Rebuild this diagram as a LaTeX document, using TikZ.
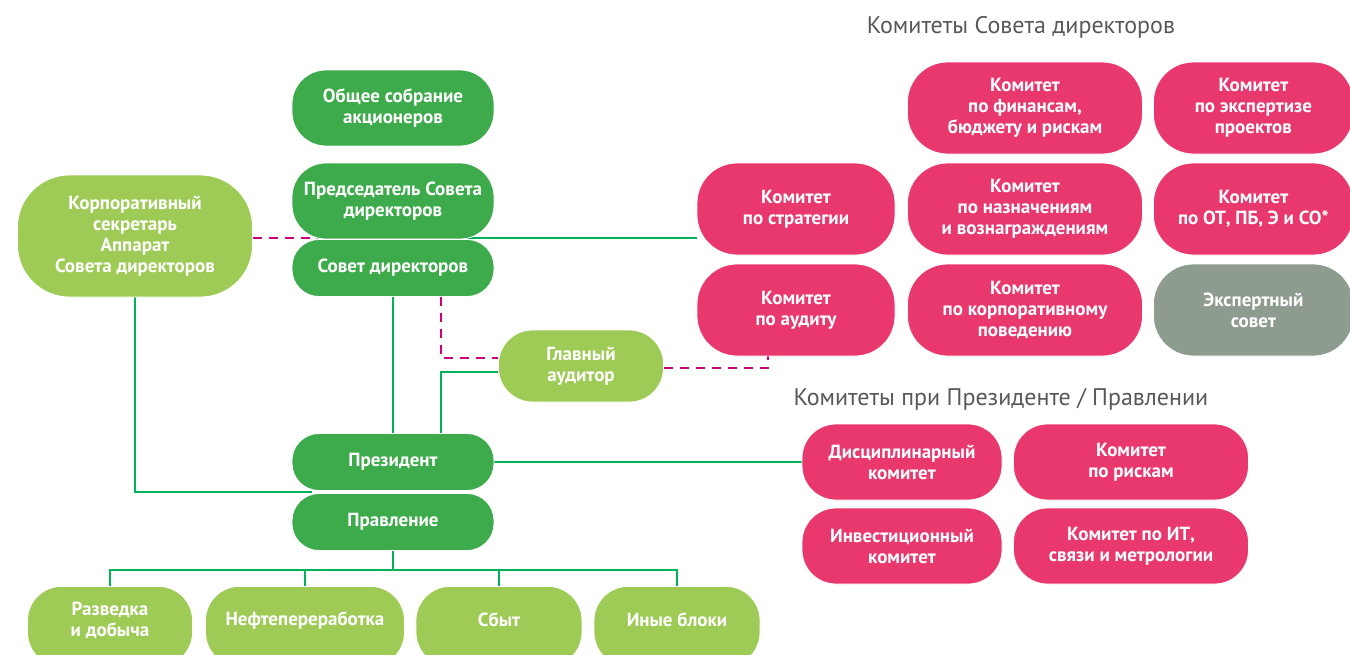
\documentclass[tikz,border=0pt]{standalone}
\usepackage{fontspec}
\setmainfont{PT Sans}
\newfontfamily\titlefont{PT Sans}
\usetikzlibrary{calc}
\definecolor{dkgreen}{HTML}{3DAB4B}
\definecolor{ltgreen}{HTML}{9DCB55}
\definecolor{pinkc}{HTML}{E8386E}
\definecolor{greyc}{HTML}{8E9C90}
\definecolor{lineg}{HTML}{00B25A}
\definecolor{linem}{HTML}{C8007A}
\definecolor{titleg}{HTML}{585858}
\pgfdeclarelayer{background}
\pgfsetlayers{background,main}
\tikzset{
  boxfont/.style={font=\fontsize{19}{21}\selectfont\bfseries},
  box/.style={fill=#1, draw=white, line width=0.8pt, text=white, align=center,
    inner sep=0pt, boxfont, rounded corners=34pt},
  big/.style={rounded corners=40pt},
  lbl/.style={text=white, align=center, boxfont},
  gl/.style={draw=lineg, line width=2.4pt},
  ml/.style={draw=linem, line width=2.4pt, dash pattern=on 9pt off 7pt},
  ttl/.style={text=titleg, font=\titlefont\fontsize{24}{28}\selectfont}
}
\begin{document}
\begin{tikzpicture}[x=1pt,y=-1pt]
\useasboundingbox (0,0) rectangle (1350,654);
% left column
\node[box=dkgreen, minimum width=202pt, minimum height=76pt] (osa) at (393,108) {Общее собрание\\акционеров};
\node[box=dkgreen, minimum width=202pt, minimum height=76pt] (pred) at (393,201) {Председатель Совета\\директоров};
\node[box=dkgreen, minimum width=202pt, minimum height=57pt, rounded corners=27pt] (sd) at (393,268) {Совет директоров};
\node[box=ltgreen, minimum width=235pt, minimum height=122pt, rounded corners=52pt] (sec) at (135,236) {Корпоративный\\секретарь\\Аппарат\\Совета директоров};
\node[box=ltgreen, minimum width=165pt, minimum height=72pt] (aud) at (581,366) {Главный\\аудитор};
\node[box=dkgreen, minimum width=202pt, minimum height=57pt, rounded corners=27pt] (pres) at (393,462) {Президент};
\node[box=dkgreen, minimum width=202pt, minimum height=57pt, rounded corners=27pt] (prav) at (393,522) {Правление};
\node[box=ltgreen, minimum width=165pt, minimum height=80pt, anchor=north] (b1) at (110,586) {};
\node[box=ltgreen, minimum width=199pt, minimum height=80pt, anchor=north] (b2) at (305,586) {};
\node[box=ltgreen, minimum width=166pt, minimum height=80pt, anchor=north] (b3) at (499,586) {};
\node[box=ltgreen, minimum width=166pt, minimum height=80pt, anchor=north] (b4) at (677,586) {};
\node[lbl] (t1) at (110,620) {Разведка\\и добыча};
\node[lbl] (t2) at (305,620) {Нефтепереработка};
\node[lbl] (t3) at (499,620) {Сбыт};
\node[lbl] (t4) at (677,620) {Иные блоки};
% board committees
\node[ttl] (title1) at (1021,27) {Комитеты Совета директоров};
\node[box=pinkc, big, minimum width=235pt, minimum height=92pt] (kfin) at (1025,108) {Комитет\\по финансам,\\бюджету и рискам};
\node[box=pinkc, big, minimum width=200pt, minimum height=92pt, anchor=west] (kexp) at (1153,108) {Комитет\\по экспертизе\\проектов};
\node[box=pinkc, big, minimum width=198pt, minimum height=92pt] (kstr) at (796,209) {Комитет\\по стратегии};
\node[box=pinkc, big, minimum width=235pt, minimum height=92pt] (knaz) at (1025,209) {Комитет\\по назначениям\\и вознаграждениям};
\node[box=pinkc, big, minimum width=200pt, minimum height=92pt, anchor=west] (kot) at (1153,209) {Комитет\\по ОТ, ПБ, Э и СО*};
\node[box=pinkc, big, minimum width=198pt, minimum height=92pt] (kaud) at (796,310) {Комитет\\по аудиту};
\node[box=pinkc, big, minimum width=235pt, minimum height=92pt] (kkorp) at (1025,310) {Комитет\\по корпоративному\\поведению};
\node[box=greyc, big, minimum width=200pt, minimum height=92pt, anchor=west] (ksov) at (1153,310) {Экспертный\\совет};
% president committees
\node[ttl] (title2) at (1001,399) {Комитеты при Президенте / Правлении};
\node[box=pinkc, minimum width=200pt, minimum height=76pt] (kdis) at (902,462) {Дисциплинарный\\комитет};
\node[box=pinkc, minimum width=235pt, minimum height=76pt] (kris) at (1131,462) {Комитет\\по рискам};
\node[box=pinkc, minimum width=200pt, minimum height=76pt] (kinv) at (902,546) {Инвестиционный\\комитет};
\node[box=pinkc, minimum width=235pt, minimum height=76pt] (kit) at (1131,546) {Комитет по ИТ,\\связи и метрологии};
% coordinates
\coordinate (jl) at (318,238);
\coordinate (jr) at (467,238);
\coordinate (c1) at (441,358);
\coordinate (c2) at (441,372);
\coordinate (c3) at (768,368);
\coordinate (ps) at (312,492);
\coordinate (bus) at (393,570);
\begin{pgfonlayer}{background}
\draw[ml] (sec.east |- jl) -- (jl);
\draw[gl] (jr) -- (kstr.west |- jr);
\draw[gl] (sd.south) -- (pres.north);
\draw[ml] (sd.south -| c1) -- (c1) -- (aud.west |- c1);
\draw[gl] (aud.west |- c2) -- (c2) -- (c2 |- pres.north);
\draw[ml] (aud.east |- c3) -- (c3) -- (c3 |- kaud.south);
\draw[gl] (sec.south) -- (sec.south |- ps) -- (ps);
\draw[gl] (pres.east) -- (kdis.west);
\draw[gl] (prav.south) -- (bus);
\draw[gl] (b1.north) -- (b1.north |- bus) -- (b4.north |- bus) -- (b4.north);
\draw[gl] (b2.north) -- (b2.north |- bus);
\draw[gl] (b3.north) -- (b3.north |- bus);
\end{pgfonlayer}
\end{tikzpicture}
\end{document}
